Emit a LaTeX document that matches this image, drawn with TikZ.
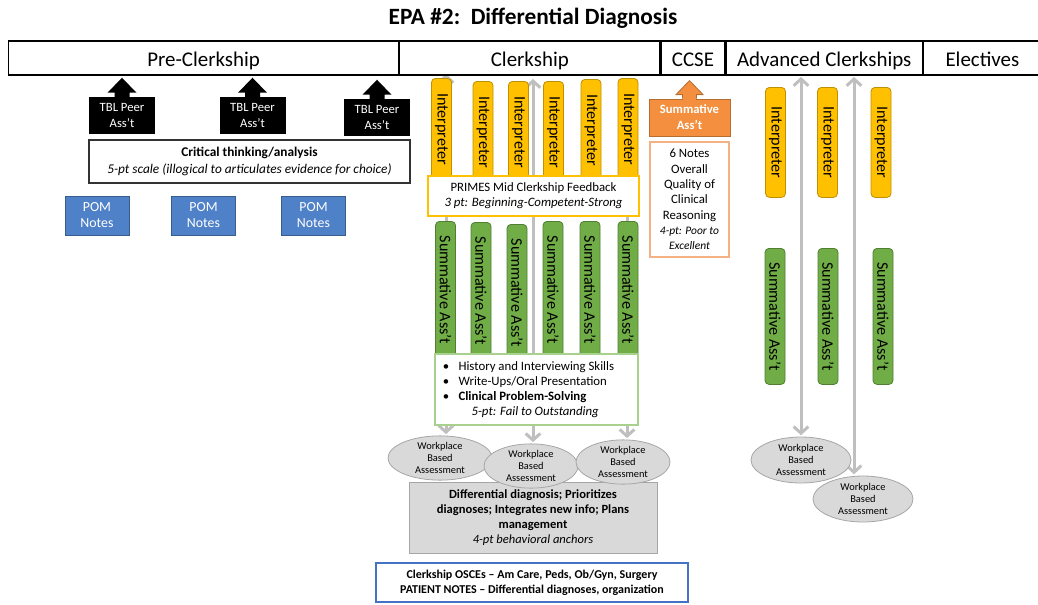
\documentclass[tikz,border=0pt]{standalone}
\usepackage{fontspec}
\setmainfont{Carlito}
\usetikzlibrary{shapes.geometric,arrows.meta}

\definecolor{interpfill}{HTML}{FFC000}
\definecolor{interpline}{HTML}{BF9000}
\definecolor{summfill}{HTML}{70AD47}
\definecolor{summline}{HTML}{507E32}
\definecolor{pomfill}{HTML}{4F81C8}
\definecolor{pomline}{HTML}{385D8A}
\definecolor{orangefill}{HTML}{F38F3F}
\definecolor{orangeline}{HTML}{B66D31}
\definecolor{notesline}{HTML}{F4B183}
\definecolor{skillsline}{HTML}{A9D18E}
\definecolor{osceline}{HTML}{4472C4}
\definecolor{arrowgray}{HTML}{BFBFBF}

\pgfdeclarelayer{background}
\pgfsetlayers{background,main}

\tikzset{
  phase/.style={draw, line width=0.9pt, minimum height=25.5pt, inner sep=0pt, anchor=west,
    text height=12pt, text depth=0pt, font=\fontsize{15.7}{18}\selectfont},
  tbl/.style={fill=black, text=white, minimum width=49.5pt, minimum height=27.75pt,
    inner sep=0pt, align=center, font=\fontsize{9.5}{12}\selectfont},
  pom/.style={fill=pomfill, draw=pomline, line width=0.6pt, text=white, minimum width=48pt,
    minimum height=29.25pt, inner sep=0pt, align=center, font=\fontsize{10.4}{12}\selectfont},
  interp/.style={draw=interpline, fill=interpfill, line width=0.6pt, rounded corners=3pt,
    rotate=-90, anchor=west, minimum height=15pt, inner sep=0pt,
    font=\fontsize{12.1}{14}\selectfont},
  summ/.style={interp, draw=summline, fill=summfill},
  textbox/.style={fill=white, inner sep=0pt, align=center},
  wba/.style={ellipse, draw=black!35, fill=black!15, line width=0.6pt, inner sep=0pt,
    align=center, font=\fontsize{7.8}{9}\selectfont},
  garrow/.style={draw=arrowgray, line width=2.25pt, shorten >=1pt,
    {Straight Barb[length=5pt,width=11pt]}-{Straight Barb[length=5pt,width=11pt]}},
}
\newcommand{\smallit}{\itshape\fontsize{8.6}{10.5}\selectfont}

\begin{document}
\begin{tikzpicture}[x=0.75pt, y=-0.75pt]
  \useasboundingbox (0,0) rectangle (1038,604);

  % title and phases
  \node[font=\bfseries\fontsize{17.5}{20}\selectfont] (title) at (533,18.5)
    {EPA \#2:~~Differential Diagnosis};
  \node[phase, minimum width=292.5pt] (pre) at (8,58) {Pre-Clerkship};
  \node[phase, minimum width=195pt] (clerk) at (pre.east) {Clerkship};
  \node[phase, minimum width=48pt] (ccse) at (clerk.east) {CCSE};
  \node[phase, minimum width=147pt] (adv) at (ccse.east) {Advanced Clerkships};
  \node[phase, minimum width=88.5pt] (elect) at (adv.east) {Electives};

  % pre-clerkship
  \node[tbl] (tbl1) at (122,115.5) {TBL Peer\\Ass’t};
  \node[tbl] (tbl2) at (252.5,115.5) {TBL Peer\\Ass’t};
  \node[tbl] (tbl3) at (377,117.5) {TBL Peer\\Ass’t};
  \foreach \n in {tbl1,tbl2,tbl3}
    \fill (\n.north) +(-7.5,0.5) -- +(-7.5,-4) -- +(-14.5,-4) -- +(0,-19)
      -- +(14.5,-4) -- +(7.5,-4) -- +(7.5,0.5) -- cycle;

  \node[textbox, draw=black!80, line width=1.1pt, minimum width=240.75pt, minimum height=32.25pt,
    font=\fontsize{10}{12.75}\selectfont] (crit) at (249.5,161.5)
    {\textbf{Critical thinking/analysis}\\\textit{5-pt scale (illogical to articulates evidence for choice)}};

  \node[pom] (pom1) at (97,215.5) {POM\\Notes};
  \node[pom] (pom2) at (203.5,215.5) {POM\\Notes};
  \node[pom] (pom3) at (313.5,215.5) {POM\\Notes};

  % clerkship
  \foreach \n/\x/\y in {1/441.5/78, 2/483/81, 3/518.5/81, 4/553.5/81, 5/591/79, 6/628/78}
    \node[interp, minimum width=76pt] (int\n) at (\x,\y) {Interpreter};
  \node[textbox, draw=interpfill, line width=0.8pt, minimum width=158.25pt, minimum height=30pt,
    font=\fontsize{9.6}{11.25}\selectfont] (primes) at (533.5,196)
    {PRIMES Mid Clerkship Feedback\\\textit{3 pt: Beginning-Competent-Strong}};
  \foreach \n/\x/\y in {1/445.5/221, 2/481/222, 3/517/224, 4/553/221, 5/590/221, 6/628/221}
    \node[summ, minimum width=102.75pt] (sum\n) at (\x,\y) {Summative Ass’t};
  \node[textbox, draw=skillsline, line width=1pt, minimum width=152.25pt, minimum height=53.25pt,
    font=\fontsize{9.6}{11.25}\selectfont] (skills) at (536.5,389.5)
    {\begin{tabular}{@{}c@{\hspace{7pt}}l@{}}
      \textbullet & History and Interviewing Skills\\
      \textbullet & Write-Ups/Oral Presentation\\
      \textbullet & \textbf{Clinical Problem-Solving}\\
      \multicolumn{2}{c}{\hspace{10pt}\itshape 5-pt: Fail to Outstanding}
    \end{tabular}\hspace{12pt}};

  \node[fill=black!15, draw=black!35, line width=0.6pt, minimum width=186pt, minimum height=53.25pt,
    inner sep=0pt, align=center, font=\bfseries\fontsize{9.4}{11.25}\selectfont] (ddx) at (533,517.5)
    {Differential diagnosis; Prioritizes\\diagnoses; Integrates new info; Plans\\management\\
     \mdseries\itshape 4-pt behavioral anchors};
  \node[wba, minimum width=78pt, minimum height=28.5pt] (wba1) at (440,458) {Workplace\\Based\\Assessment};
  \node[wba, minimum width=70.5pt, minimum height=30pt] (wba2) at (531,466) {Workplace\\Based\\Assessment};
  \node[wba, minimum width=70.5pt, minimum height=31.5pt] (wba3) at (623,462) {Workplace\\Based\\Assessment};

  \node[textbox, draw=osceline, line width=1.6pt, minimum width=234pt, minimum height=29.25pt,
    font=\bfseries\fontsize{9}{11.25}\selectfont] (osce) at (532,582.5)
    {Clerkship OSCEs – Am Care, Peds, Ob/Gyn, Surgery\\PATIENT NOTES – Differential diagnoses, organization};

  % CCSE
  \node[fill=orangefill, draw=orangeline, line width=0.6pt, text=white, minimum width=60.75pt,
    minimum height=27.75pt, inner sep=0pt, align=center,
    font=\bfseries\fontsize{9.5}{12}\selectfont] (sumc) at (689.5,117.5) {Summative\\Ass’t};
  \filldraw[fill=orangefill, draw=orangeline, line width=0.6pt] (sumc.north) +(-7,0) -- +(-7,-4)
    -- +(-13.5,-4) -- +(0,-18) -- +(13.5,-4) -- +(7,-4) -- +(7,0);
  \fill[orangefill] (sumc.north) +(-6.6,1.2) rectangle +(6.6,-3.6);
  \node[textbox, draw=notesline, line width=1pt, minimum width=59.25pt, minimum height=86.25pt,
    font=\fontsize{9.6}{11.5}\selectfont] (notes) at (689.5,199.5)
    {6 Notes\\Overall\\Quality of\\Clinical\\Reasoning\\
     \smallit 4-pt: Poor to\\\smallit Excellent};

  % advanced clerkships
  \foreach \n/\x in {1/775.5, 2/827.5, 3/881}
    \node[interp, minimum width=82.5pt] (aint\n) at (\x,87) {Interpreter};
  \foreach \n/\x in {1/775, 2/828, 3/883}
    \node[summ, minimum width=102pt] (asum\n) at (\x,248) {Summative Ass’t};
  \node[wba, minimum width=75pt, minimum height=34.5pt] (awba1) at (801,460) {Workplace\\Based\\Assessment};
  \node[wba, minimum width=75pt, minimum height=34.5pt] (awba2) at (863,499) {Workplace\\Based\\Assessment};

  % gray arrows behind
  \coordinate (topA) at (446,74);
  \coordinate (topB) at (533,79);
  \coordinate (topC) at (627,82);
  \coordinate (topD) at (801,77);
  \coordinate (topE) at (854,77);
  \begin{pgfonlayer}{background}
    \draw[garrow] (topA) -- (topA |- wba1.north);
    \draw[garrow] (topB) -- (topB |- wba2.north);
    \draw[garrow] (topC) -- (topC |- wba3.north);
    \draw[garrow] (topD) -- (topD |- awba1.north);
    \draw[garrow] (topE) -- (topE |- awba2.north);
  \end{pgfonlayer}
\end{tikzpicture}
\end{document}
